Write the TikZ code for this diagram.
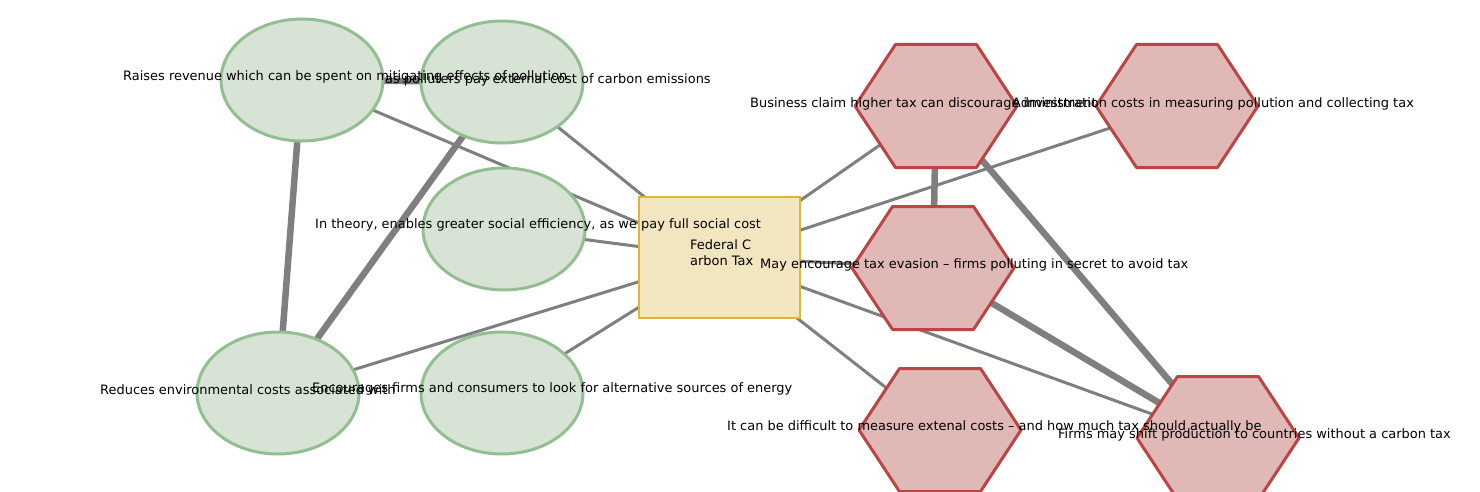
\documentclass[tikz,border=0pt]{standalone}
\usepackage{fontspec}
\setmainfont{DejaVu Sans}
\usetikzlibrary{shapes.geometric,backgrounds,calc}
\definecolor{gfill}{HTML}{D7E3D5}
\definecolor{gline}{HTML}{93BE92}
\definecolor{rfill}{HTML}{E0B9B6}
\definecolor{rline}{HTML}{B94545}
\definecolor{yfill}{HTML}{F2E6C1}
\definecolor{yline}{HTML}{E3B23C}
\definecolor{eline}{HTML}{7F7F7F}
\tikzset{
  pro/.style={ellipse,draw=gline,fill=gfill,line width=3pt,minimum width=162pt,minimum height=122pt,inner sep=0pt},
  con/.style={draw=rline,fill=rfill,line width=3pt,line join=round},
  hub/.style={rectangle,draw=yline,fill=yfill,line width=2pt,minimum width=161pt,minimum height=121pt,inner sep=0pt},
  thin/.style={draw=eline,line width=3pt},
  thick/.style={draw=eline,line width=6.5pt},
  lab/.style={font=\fontsize{12.95}{16}\selectfont,inner sep=0pt,anchor=west,text=black}
}
\newcommand{\hexat}[1]{%
  \path[con] ($(#1)+(-81,0)$) -- ($(#1)+(-40.5,-61.5)$) -- ($(#1)+(40.5,-61.5)$) -- ($(#1)+(81,0)$) -- ($(#1)+(40.5,61.5)$) -- ($(#1)+(-40.5,61.5)$) -- cycle;}
\begin{document}
\begin{tikzpicture}[x=1pt,y=-1pt]
\useasboundingbox (0,0) rectangle (1480,492);
% pro nodes
\node[pro] (e1) at (302,80) {};
\node[pro] (e2) at (502,82) {};
\node[pro] (e3) at (504,229) {};
\node[pro] (e4) at (278,393) {};
\node[pro] (e5) at (502,393) {};
% hub
\node[hub] (tax) at (719,257) {};
% con nodes
\coordinate (h1) at (936,106);
\coordinate (h2) at (1177,106);
\coordinate (h3) at (933,268);
\coordinate (h4) at (940,430);
\coordinate (h5) at (1218,438);
\hexat{h1}\hexat{h2}\hexat{h3}\hexat{h4}\hexat{h5}
% edges
\begin{scope}[on background layer]
\draw[thin] (e1.center) -- (tax.center);
\draw[thin] (e2.center) -- (tax.center);
\draw[thin] (e3.center) -- (tax.center);
\draw[thin] (e4.center) -- (tax.center);
\draw[thin] (e5.center) -- (tax.center);
\draw[thin] (tax.center) -- (h1);
\draw[thin] (tax.center) -- (h2);
\draw[thin] (tax.center) -- (h3);
\draw[thin] (tax.center) -- (h4);
\draw[thin] (tax.center) -- (h5);
\draw[thick] (e1.center) -- (e2.center);
\draw[thick] (e1.center) -- (e4.center);
\draw[thick] (e2.center) -- (e4.center);
\draw[thick] (h1) -- (h3);
\draw[thick] (h1) -- (h5);
\draw[thick] (h3) -- (h5);
\end{scope}
% labels
\node[lab] (t1) at (123,77) {Raises revenue which can be spent on mitigating effects of pollution};
\node[lab] (t2) at (385,80) {as polluters pay external cost of carbon emissions};
\node[lab] (t3) at (315,225) {In theory, enables greater social efficiency, as we pay full social cost};
\node[lab,align=left] (t4) at (690,253) {Federal C\\arbon Tax};
\node[lab] (t5) at (100,390) {Reduces environmental costs associated with};
\node[lab] (t6) at (312,389) {Encourages firms and consumers to look for alternative sources of energy};
\node[lab] (t7) at (750,104) {Business claim higher tax can discourage investment};
\node[lab] (t8) at (1012,104) {Administration costs in measuring pollution and collecting tax};
\node[lab] (t9) at (760,265) {May encourage tax evasion -- firms polluting in secret to avoid tax};
\node[lab] (t10) at (727,427) {It can be difficult to measure extenal costs -- and how much tax should actually be};
\node[lab] (t11) at (1058,435) {Firms may shift production to countries without a carbon tax};
\end{tikzpicture}
\end{document}
